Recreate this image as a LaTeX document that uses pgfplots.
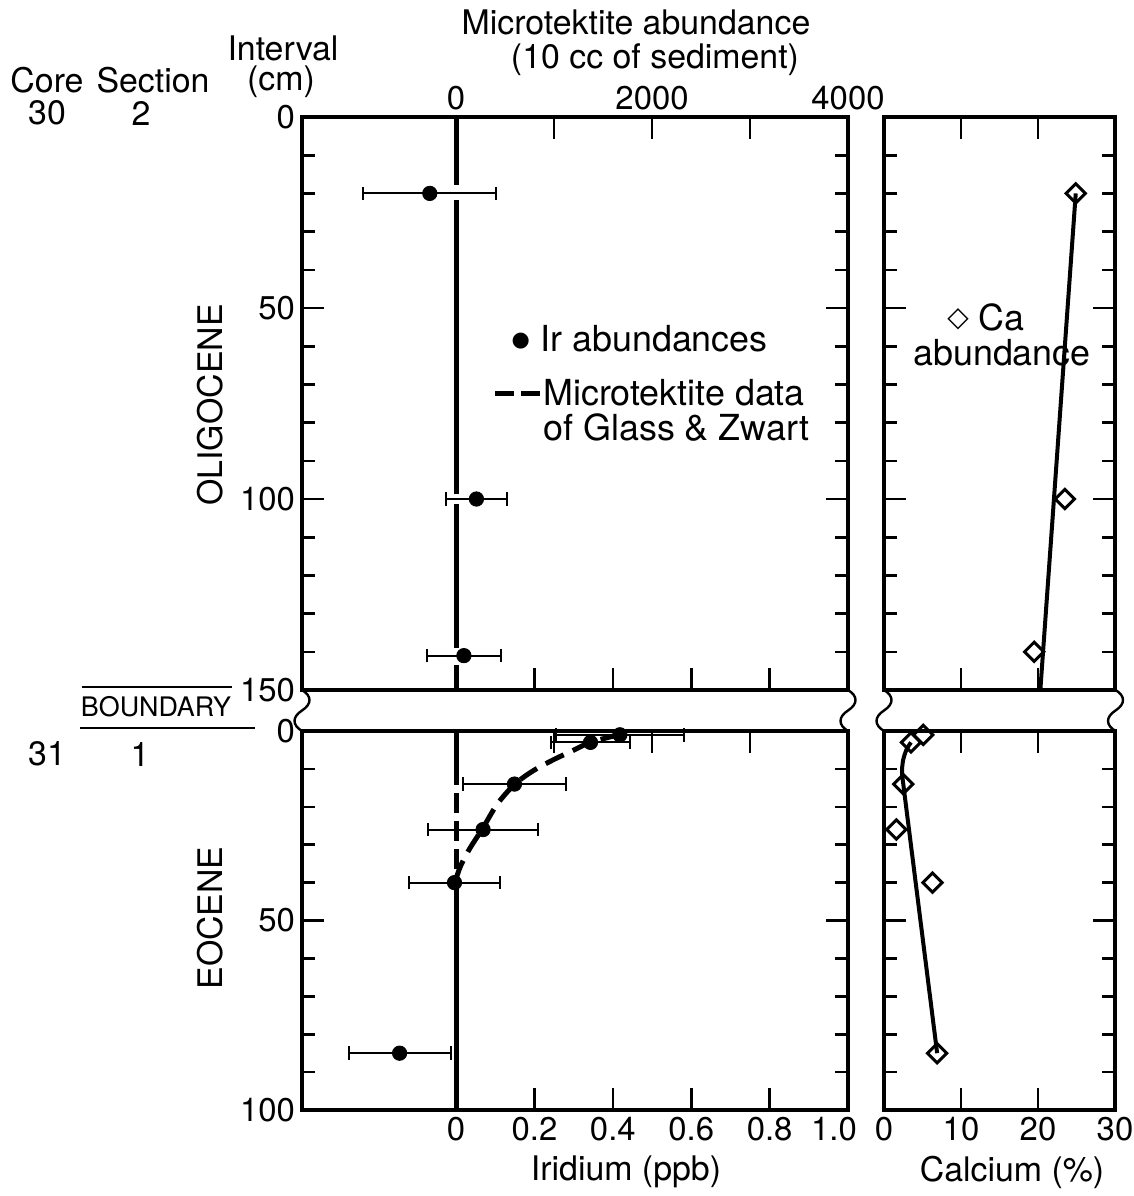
\documentclass[border=0pt]{standalone}
\usepackage{pgfplots}
\pgfplotsset{compat=1.18}
\usepackage{fontspec}
\setmainfont{TeX Gyre Heros}
\newfontfamily\symfont{DejaVu Sans}
\newfontfamily\symfontb{DejaVu Sans Bold}
\newcommand\lbl{\fontsize{17}{20}\selectfont}
\newcommand\leg{\fontsize{18}{21}\selectfont}
\begin{document}
\begin{tikzpicture}[x=1bp,y=1bp]
\useasboundingbox (0,0) rectangle (567,-598);
\pgfplotsset{
  panel/.style={
    scale only axis, anchor=north west, clip=false,
    y dir=reverse,
    axis line style={line width=1.6bp},
    tick align=inside,
    tick style={black, line width=1.3bp},
    major tick length=11bp, minor tick length=6.5bp,
    ticklabel style={font=\fontsize{16.5}{19}\selectfont},
    /pgf/number format/assume math mode=true,
  },
  irpanel/.style={panel, width=273bp, xmin=-0.393, xmax=1.0},
  mtpanel/.style={panel, width=273bp, xmin=-1572, xmax=4000,
    xtick={0,1000,2000,3000,4000}, xtick pos=right, xticklabel pos=right},
  capanel/.style={panel, width=115.5bp, xmin=0, xmax=30, yticklabels={}},
  toppanel/.style={height=286.5bp, ymin=0, ymax=150, ytick={0,50,100,150},
    minor ytick={10,20,30,40,60,70,80,90,110,120,130,140}},
  botpanel/.style={height=189.5bp, ymin=0, ymax=100, ytick={0,50,100},
    minor ytick={10,20,30,40,60,70,80,90}},
  irdots/.style={only marks, mark=*, mark size=3.6bp, black,
    error bars/.cd, x dir=both, x explicit, error mark=|,
    error bar style={line width=1bp, black},
    error mark options={mark size=3.4bp, line width=1bp, black}},
  cadiam/.style={only marks, mark=square, mark size=3.4bp, black,
    mark options={rotate=45, line width=1.5bp, fill=white}},
  zeroline/.style={line width=2.5bp, black, no marks},
}

% ---------- Oligocene, iridium ----------
\begin{axis}[irpanel, toppanel, at={(151bp,-58.5bp)},
  xtick={0,0.2,0.4,0.6,0.8}, xticklabels={}, xtick pos=left]
\addplot[zeroline] coordinates {(0,0) (0,17.8)};
\addplot[zeroline] coordinates {(0,21.8) (0,98.7)};
\addplot[zeroline] coordinates {(0,101.3) (0,139)};
\addplot[zeroline] coordinates {(0,143.4) (0,150)};
\addplot[irdots] coordinates {
  (-0.067,20) +- (0.17,0)
  (0.052,100) +- (0.077,0)
  (0.020,141) +- (0.095,0)
};
\end{axis}

% ---------- Oligocene, microtektite scale on top ----------
\begin{axis}[mtpanel, toppanel, at={(151bp,-58.5bp)},
  xticklabels={0,{},2000,{},4000}, ytick=\empty, minor ytick=\empty]
\end{axis}

% ---------- Eocene, iridium ----------
\begin{axis}[irpanel, botpanel, at={(151bp,-365.5bp)},
  xtick={0,0.2,0.4,0.6,0.8}, xticklabels={0,0.2,0.4,0.6,0.8}, xtick pos=left,
  extra x ticks={1}, extra x tick labels={1.0},
  extra x tick style={major tick length=0pt, xticklabel style={xshift=-7bp}}]
\addplot[zeroline] coordinates {(0,0) (0,9)};
\addplot[zeroline, dash pattern=on 10bp off 4bp] coordinates {(0,9) (0,39)};
\addplot[zeroline] coordinates {(0,39) (0,100)};
\addplot[line width=2.5bp, black, no marks, smooth, tension=0.5,
  dash pattern=on 10bp off 5bp] coordinates {
  (0.418,0.9) (0.343,3.0) (0.297,5.2) (0.246,7.7) (0.195,10.6) (0.149,14.1)
  (0.105,19.3) (0.069,25.5) (0.035,31) (0.012,35.5) (0,39)
};
\addplot[irdots] coordinates {
  (0.418,1) +- (0.164,0)
  (0.343,3) +- (0.100,0)
  (0.149,14) +- (0.131,0)
  (0.069,26) +- (0.140,0)
  (-0.004,40) +- (0.116,0)
  (-0.144,85) +- (0.130,0)
};
\end{axis}

% ---------- Eocene, microtektite ticks on top ----------
\begin{axis}[mtpanel, botpanel, at={(151bp,-365.5bp)},
  xticklabels={}, ytick=\empty, minor ytick=\empty]
\end{axis}

% ---------- Oligocene, calcium ----------
\begin{axis}[capanel, toppanel, at={(442bp,-58.5bp)},
  xtick={10,20}, xticklabels={}]
\addplot[line width=2bp, black, no marks] coordinates {(24.9,20) (20.3,150)};
\addplot[cadiam] coordinates {(24.9,20) (23.5,100) (19.5,140)};
\end{axis}

% ---------- Eocene, calcium ----------
\begin{axis}[capanel, botpanel, at={(442bp,-365.5bp)},
  xtick={0,10,20,30}, xticklabels={0,10,20,30}]
\addplot[line width=2bp, black, no marks, smooth, tension=0.6] coordinates {
  (3.5,3) (2.9,5) (2.45,8) (2.35,11) (2.5,14)
};
\addplot[line width=2bp, black, no marks] coordinates {(2.5,14) (6.9,85)};
\addplot[cadiam] coordinates {(5.1,1) (3.5,3) (2.5,14) (1.6,26) (6.3,40) (6.9,85)};
\end{axis}

% ---------- breaks between the two sections ----------
\foreach \x in {151,424,442,557.75}
  \draw[line width=1.2bp] (\x,-345) .. controls (\x+5,-348) and (\x+5,-352) .. (\x,-355.25)
    .. controls (\x-5,-358.5) and (\x-5,-362.5) .. (\x,-365.5);

% ---------- keys ----------
\node[font=\fontsize{10.5}{12}\symfont, inner sep=0pt] at (260.4,-170.5) {●};
\node[font=\leg, anchor=base west, inner sep=0pt] at (270,-176) {Ir abundances};
\draw[line width=2.5bp, dash pattern=on 9.5bp off 3.5bp] (247.5,-196.5) -- (270,-196.5);
\node[font=\leg, anchor=base west, inner sep=0pt] at (271.5,-202.5) {Microtektite data};
\node[font=\leg, anchor=base west, inner sep=0pt] at (271.5,-220) {of Glass \& Zwart};
\node[font=\fontsize{14}{16}\symfontb, inner sep=0pt] at (479,-159.5) {◇};
\node[font=\leg, anchor=base west, inner sep=0pt] at (489,-165.5) {Ca};
\node[font=\leg] at (501,-176.5) {abundance};

% ---------- texts ----------
\node[font=\lbl] at (318,-11) {Microtektite abundance};
\node[font=\lbl] at (327.5,-30) {(10 cc of sediment)};
\node[font=\lbl] at (141.5,-24) {Interval};
\node[font=\lbl] at (140.5,-41) {(cm)};
\node[font=\lbl] at (23.5,-40) {Core};
\node[font=\lbl] at (76.5,-40) {Section};
\node[font=\lbl] at (23.5,-56.5) {30};
\node[font=\lbl] at (70.5,-56.5) {2};
\node[font=\lbl] at (23.5,-377) {31};
\node[font=\lbl] at (70,-377) {1};
\node[font=\fontsize{13.5}{16}\selectfont] at (78,-353.5) {BOUNDARY};
\draw[line width=1bp] (41,-343.5) -- (116,-343.5);
\draw[line width=1bp] (40,-364) -- (127.5,-364);
\node[font=\lbl, rotate=90] at (105,-202.5) {OLIGOCENE};
\node[font=\lbl, rotate=90] at (105,-459) {EOCENE};
\node[font=\lbl] at (313,-586) {Iridium (ppb)};
\node[font=\lbl] at (506,-586) {Calcium (\%)};
\end{tikzpicture}
\end{document}
